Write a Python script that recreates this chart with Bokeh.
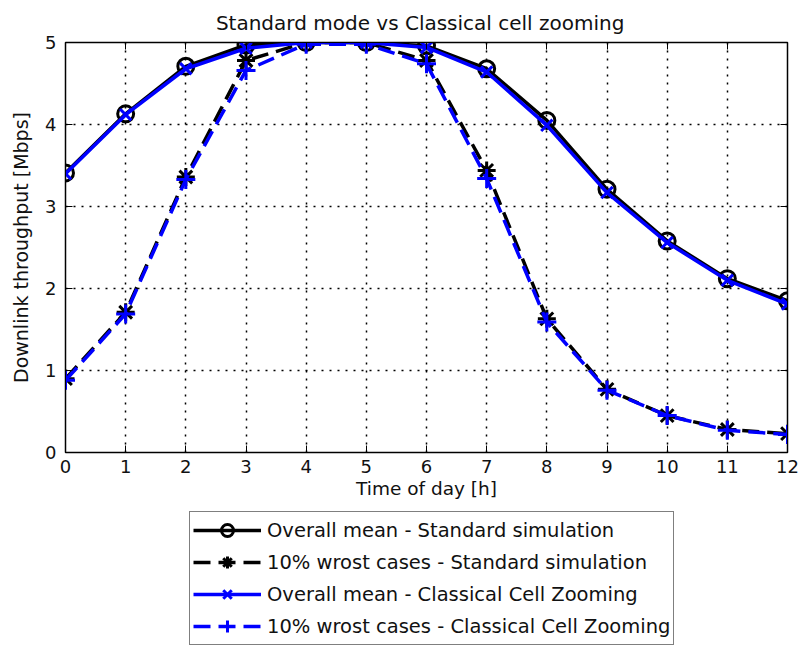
from bokeh.plotting import figure
from bokeh.models import Legend, LegendItem, LinearAxis, FixedTicker, Range1d
from bokeh.layouts import column
from bokeh.embed import file_html
from bokeh.resources import INLINE

FONT = "DejaVu Sans"

hours = list(range(13))
mean_std = [3.41, 4.13, 4.71, 4.97, 5.0, 5.0, 4.96, 4.68, 4.05, 3.21, 2.58, 2.12, 1.85]
worst_std = [0.90, 1.71, 3.36, 4.78, 5.0, 5.0, 4.78, 3.44, 1.63, 0.77, 0.45, 0.28, 0.23]
mean_ccz = [3.40, 4.12, 4.68, 4.93, 5.0, 5.0, 4.94, 4.64, 3.99, 3.17, 2.56, 2.10, 1.81]
worst_ccz = [0.88, 1.69, 3.33, 4.66, 4.98, 4.98, 4.74, 3.34, 1.59, 0.76, 0.45, 0.27, 0.22]

x_ticks = list(range(13))
y_ticks = [0, 1, 2, 3, 4, 5]

labels = [
    "Overall mean - Standard simulation",
    "10% wrost cases - Standard simulation",
    "Overall mean - Classical Cell Zooming",
    "10% wrost cases - Classical Cell Zooming",
]

BLUE = "#0000ff"
DASH = "17 8"
LW = 3.5

styles = [
    dict(color="black", dash="solid", marker="circle", size=16),
    dict(color="black", dash=DASH, marker="asterisk", size=18),
    dict(color=BLUE, dash="solid", marker="x", size=16),
    dict(color=BLUE, dash=DASH, marker="cross", size=19),
]
series = [mean_std, worst_std, mean_ccz, worst_ccz]

p = figure(width=803, height=502, x_range=Range1d(0, 12), y_range=Range1d(0, 5),
           output_backend="svg", toolbar_location=None,
           min_border_left=65, min_border_right=16, min_border_top=42, min_border_bottom=50,
           title="Standard mode  vs  Classical cell zooming")

p.background_fill_color = "white"
p.border_fill_color = "white"
p.outline_line_color = "black"
p.outline_line_width = 1.5

p.title.align = "center"
p.title.text_font = FONT
p.title.text_font_size = "20px"
p.title.text_font_style = "normal"
p.title.text_color = "#111111"
p.title.standoff = 16

for ax in (p.xaxis, p.yaxis):
    ax.major_label_text_font = FONT
    ax.major_label_text_font_size = "18px"
    ax.major_label_text_color = "#111111"
    ax.axis_label_text_font = FONT
    ax.axis_label_text_font_style = "normal"
    ax.axis_label_text_color = "#111111"
    ax.major_tick_in = 7
    ax.major_tick_out = 0
    ax.minor_tick_line_color = None
    ax.axis_line_color = "black"
    ax.major_tick_line_color = "black"
p.xaxis.axis_label_text_font_size = "18.5px"
p.yaxis.axis_label_text_font_size = "19px"
p.xaxis.major_label_standoff = 7
p.xaxis.axis_label_standoff = 2
p.yaxis.major_label_standoff = 9
p.yaxis.axis_label_standoff = 10

p.xaxis.ticker = FixedTicker(ticks=x_ticks)
p.yaxis.ticker = FixedTicker(ticks=y_ticks)
p.xaxis.axis_label = "Time of day [h]"
p.yaxis.axis_label = "Downlink throughput [Mbps]"

# box ticks on right and top sides
rax = LinearAxis(ticker=FixedTicker(ticks=y_ticks), major_tick_in=7, major_tick_out=0,
                 minor_tick_line_color=None,
                 major_label_overrides={t: "" for t in y_ticks},
                 major_label_standoff=0, axis_line_color="black")
p.add_layout(rax, "right")
tax = LinearAxis(ticker=FixedTicker(ticks=x_ticks), major_tick_in=7, major_tick_out=0,
                 minor_tick_line_color=None,
                 major_label_overrides={t: "" for t in x_ticks},
                 major_label_standoff=0, axis_line_color="black")
p.add_layout(tax, "above")

for g in (p.xgrid, p.ygrid):
    g.grid_line_color = "black"
    g.grid_line_dash = "2 6"
    g.grid_line_width = 1.5
p.xgrid.ticker = FixedTicker(ticks=x_ticks)
p.ygrid.ticker = FixedTicker(ticks=y_ticks)

for ys, st in zip(series, styles):
    p.line(hours, ys, line_color=st["color"], line_width=LW, line_dash=st["dash"])
    p.scatter(hours, ys, marker=st["marker"], size=st["size"], fill_color=None,
              line_color=st["color"], line_width=3)

# legend panel below (its renderers use the same series, out of view)
q = figure(width=803, height=145, x_range=Range1d(-100, -99), y_range=Range1d(0, 1),
           output_backend="svg", toolbar_location=None,
           min_border_left=0, min_border_right=0, min_border_top=0, min_border_bottom=0)
q.axis.visible = False
q.grid.visible = False
q.outline_line_color = None
q.background_fill_color = "white"
q.border_fill_color = "white"

items = []
for lab, ys, st in zip(labels, series, styles):
    lr = q.line(hours, ys, line_color=st["color"], line_width=LW, line_dash=st["dash"])
    sr = q.scatter(hours, ys, marker=st["marker"], size=st["size"], fill_color=None,
                   line_color=st["color"], line_width=3)
    items.append(LegendItem(label=lab, renderers=[lr, sr]))

legend = Legend(items=items, location=(124, 2), orientation="vertical")
legend.border_line_color = "black"
legend.border_line_width = 1.5
legend.label_text_font = FONT
legend.label_text_font_size = "19.5px"
legend.label_text_color = "#111111"
legend.glyph_width = 68
legend.glyph_height = 30
legend.label_height = 30
legend.spacing = 2
legend.padding = 3
legend.label_standoff = 6
legend.margin = 0
q.add_layout(legend, "center")

open("out.html", "w").write(file_html(column(p, q), INLINE))
